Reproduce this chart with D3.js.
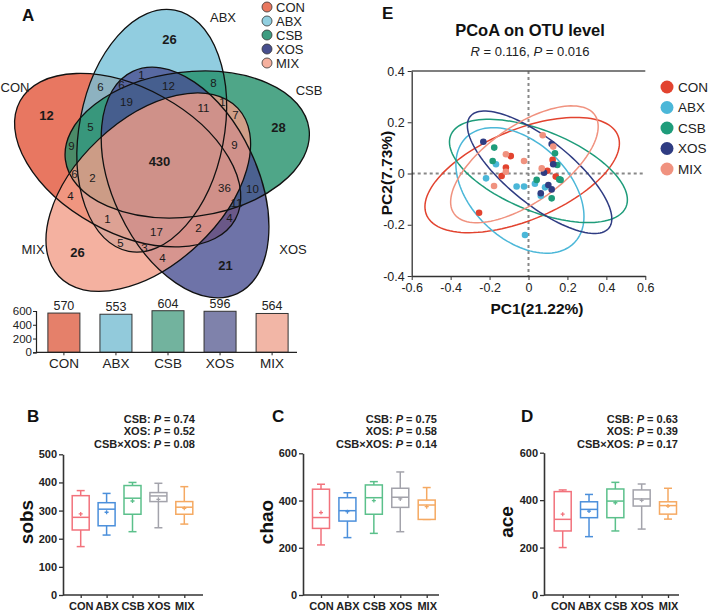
<!DOCTYPE html>
<html><head><meta charset="utf-8">
<script src="https://cdn.jsdelivr.net/npm/d3@7"></script>
<style>
body{margin:0;background:#fff;}
svg{font-family:Arial,"Liberation Sans",sans-serif;}
</style></head><body>
<svg id="fig" width="708" height="614"></svg>
<script>
var groups = ["CON","ABX","CSB","XOS","MIX"];
var initials = ["C","A","S","X","M"];
var otuTotals = [570,553,604,596,564];

// venn region counts, keyed by set initials
var vennCodes  = ["C","A","S","X","M","CASXM","AX","CA","CAX","ASX","AS","ASM","SM","ASXM","CASX","CAS",
                  "CS","SXM","CASM","CSXM","CSM","CM","SX","CSX","CAM","CAXM","CXM","CX","AM","AXM","XM"];
var vennCounts = [12,26,28,21,26,430,1,6,6,12,8,1,7,11,19,5,
                  9,9,2,36,6,4,10,11,1,17,2,4,5,3,4];

// venn geometry (units, diagram centre = 0,0)
var vennDist = 0.3237, vennCentreAngle = -104.77, vennAxisAngle = -79.2;
var vennA = 0.724, vennB = 1.228;
var vennRot = [-72,0,72,144,216];

// PCoA samples [PC1, PC2]
var pcoaCON = [[-0.254,-0.153],[-0.091,0.068],[-0.116,0.023],[-0.138,-0.010],[0.097,0.011],[0.124,0.053],[0.140,-0.012]];
var pcoaABX = [[-0.167,0.036],[-0.218,-0.019],[-0.061,-0.051],[-0.023,-0.051],[0.033,-0.040],[0.085,-0.054],[0.063,-0.087],[-0.018,-0.240]];
var pcoaCSB = [[-0.176,0.101],[-0.184,0.049],[0.136,0.079],[0.148,0.033],[0.158,-0.023],[0.165,-0.025],[0.042,-0.025],[0.119,-0.097]];
var pcoaXOS = [[-0.232,0.124],[0.119,0.115],[0.127,0.036],[0.080,0.003],[0.102,-0.045],[0.119,-0.062],[0.063,-0.077]];
var pcoaMIX = [[-0.116,0.075],[-0.023,0.049],[-0.116,0.007],[-0.177,-0.049],[0.073,0.149],[0.127,0.105],[0.068,0.020]];
// confidence ellipses: centre x, centre y, half width, half height, cos(phase)
var ellCON = [-0.0325,-0.006,0.4995,0.225,0.55];
var ellABX = [-0.044,-0.066,0.329,0.245,-0.416];
var ellCSB = [0.051,0.010,0.457,0.2015,-0.56];
var ellXOS = [0.057,0.005,0.371,0.239,-0.76];
var ellMIX = [-0.021,0.036,0.379,0.228,0.645];
var pcoaTicksX = [-0.6,-0.4,-0.2,0,0.2,0.4,0.6];
var pcoaTicksY = [-0.4,-0.2,0,0.2,0.4];

// box stats: min, q1, median, q3, max, mean
var sobsStats = [[172,231,276,353,371,288],[213,246,305,328,361,294],[225,287,344,389,400,334],[239,332,352,364,397,340],[252,287,312,332,385,308]];
var chaoStats = [[212,282,328,448,469,349],[243,313,357,412,433,353],[261,342,412,466,480,400],[268,371,414,452,521,407],[320,320,381,402,455,374]];
var aceStats  = [[200,270,319,436,443,341],[246,326,361,393,424,354],[270,326,396,447,475,389],[278,375,405,443,468,399],[320,341,377,393,450,375]];

var svg = d3.select("#fig");
var font = "Arial,'Liberation Sans',sans-serif";

function panelLetter(t,x,y){
  svg.append("text").attr("x",x).attr("y",y).attr("font-size",17).attr("font-weight","bold").attr("fill","#111").text(t);
}

// ---------- A: venn ----------
var vx = d3.scaleLinear().domain([0,1]).range([160,260]);
var vy = d3.scaleLinear().domain([0,1]).range([162,262]);
var vennFill = ["#E2553A","#75C0D8","#23906A","#4A5092","#F19D88"];
var legendFill = ["#E8775F","#91CFE0","#3E9C80","#474F8E","#F5B09E"];

var ells = groups.map(function(g,i){
  var ca = (vennCentreAngle + vennRot[i]) * Math.PI/180;
  return {cx: vx(vennDist*Math.cos(ca)), cy: vy(vennDist*Math.sin(ca)),
    rx: vx(vennB)-vx(0), ry: vx(vennA)-vx(0), ang: vennAxisAngle + vennRot[i]};
});
var venn = svg.append("g");
function ellAttrs(sel){
  sel.attr("cx",function(d){return d.cx;}).attr("cy",function(d){return d.cy;})
    .attr("rx",function(d){return d.rx;}).attr("ry",function(d){return d.ry;})
    .attr("transform",function(d){return "rotate("+d.ang+","+d.cx+","+d.cy+")";});
}
venn.selectAll("ellipse.f").data(ells).enter().append("ellipse").call(ellAttrs)
  .attr("fill",function(d,i){return vennFill[i];}).attr("fill-opacity",0.8);
venn.selectAll("ellipse.s").data(ells).enter().append("ellipse").call(ellAttrs)
  .attr("fill","none").attr("stroke","#111").attr("stroke-width",1.3);

function inside(e,x,y){
  var t = e.ang*Math.PI/180, dx = x-e.cx, dy = y-e.cy;
  var u = dx*Math.cos(t)+dy*Math.sin(t), v = -dx*Math.sin(t)+dy*Math.cos(t);
  return (u*u)/(e.rx*e.rx)+(v*v)/(e.ry*e.ry) <= 1;
}
// most interior point of each region (distance transform)
function spots(W,H){
  var m = new Uint8Array(W*H), d = new Float32Array(W*H), x, y, p, i;
  for(y=0;y<H;y++) for(x=0;x<W;x++){
    var k=0; for(i=0;i<5;i++) if(inside(ells[i],x+0.5,y+0.5)) k|=1<<i;
    m[y*W+x]=k;
  }
  for(y=0;y<H;y++) for(x=0;x<W;x++){
    p=y*W+x; d[p]=1e9;
    if((x>0&&m[p-1]!=m[p])||(x<W-1&&m[p+1]!=m[p])||(y>0&&m[p-W]!=m[p])||(y<H-1&&m[p+W]!=m[p])) d[p]=0;
  }
  var r2=Math.SQRT2;
  for(y=1;y<H;y++) for(x=1;x<W-1;x++){ p=y*W+x;
    d[p]=Math.min(d[p],d[p-1]+1,d[p-W]+1,d[p-W-1]+r2,d[p-W+1]+r2); }
  for(y=H-2;y>=0;y--) for(x=W-2;x>0;x--){ p=y*W+x;
    d[p]=Math.min(d[p],d[p+1]+1,d[p+W]+1,d[p+W+1]+r2,d[p+W-1]+r2); }
  var best={};
  for(p=0;p<W*H;p++){ var k=m[p]; if(!k) continue;
    if(!best[k]||d[p]>best[k].d) best[k]={d:d[p],x:p%W+0.5,y:Math.floor(p/W)+0.5}; }
  return best;
}
var best = spots(330,310);
vennCodes.forEach(function(code,j){
  var k=0; for(var i=0;i<5;i++) if(code.indexOf(initials[i])>=0) k|=1<<i;
  var s = best[k]; if(!s) return;
  var big = code.length==1 || code.length==5;
  venn.append("text").attr("x",s.x).attr("y",s.y).attr("dy","0.36em")
    .attr("text-anchor","middle").attr("font-size",big?13:11.5)
    .attr("font-weight",big?"bold":"normal").attr("fill","#1a1a1a").text(vennCounts[j]);
});
// category names
var catPos = [[15,87],[223,17],[309,90],[293,249],[33,249]];
groups.forEach(function(g,i){
  svg.append("text").attr("x",catPos[i][0]).attr("y",catPos[i][1]).attr("dy","0.36em")
    .attr("text-anchor","middle").attr("font-size",13).attr("fill","#222").text(g);
});
var lg = svg.append("g").attr("transform","translate(267,7)");
groups.forEach(function(g,i){
  lg.append("circle").attr("cx",0).attr("cy",i*14).attr("r",5).attr("fill",legendFill[i]).attr("stroke","#333").attr("stroke-width",0.8);
  lg.append("text").attr("x",9).attr("y",i*14).attr("dy","0.36em").attr("font-size",13).attr("fill","#222").text(g);
});
panelLetter("A",22,21);

// bar chart of OTU totals
var barColors = ["#E5806A","#92CADB","#72B39E","#7F82AB","#F2B6A6"];
var bx = d3.scaleBand().domain(groups).range([38,298]).paddingInner(0.385).paddingOuter(0.19);
var by = d3.scaleLinear().domain([0,600]).range([352.3,311]);
var bars = svg.append("g");
bars.selectAll("rect").data(otuTotals).enter().append("rect")
  .attr("x",function(d,i){return bx(groups[i]);}).attr("width",bx.bandwidth())
  .attr("y",function(d){return by(d);}).attr("height",function(d){return by(0)-by(d);})
  .attr("fill",function(d,i){return barColors[i];}).attr("stroke","#333").attr("stroke-width",1);
bars.selectAll("text.v").data(otuTotals).enter().append("text")
  .attr("x",function(d,i){return bx(groups[i])+bx.bandwidth()/2;}).attr("y",function(d){return by(d)-3;})
  .attr("text-anchor","middle").attr("font-size",12.5).attr("fill","#222").text(function(d){return d;});
var bya = svg.append("g").attr("transform","translate(36,0)")
  .call(d3.axisLeft(by).tickValues([0,200,400,600]).tickSize(3).tickPadding(1));
bya.selectAll("text").attr("font-size",11.5).attr("fill","#222").attr("font-family",font);
bya.select(".domain").attr("stroke","#222").attr("stroke-width",1.2);
bya.selectAll(".tick line").attr("stroke","#222");
var bxa = svg.append("g").attr("transform","translate(0,352.3)")
  .call(d3.axisBottom(bx).tickSize(3).tickSizeOuter(0).tickPadding(3));
bxa.select(".domain").attr("d","M36,0H297").attr("stroke","#222").attr("stroke-width",1.2);
bxa.selectAll(".tick line").attr("stroke","#222");
bxa.selectAll("text").attr("font-size",13.5).attr("fill","#222").attr("font-family",font);

// ---------- E: PCoA ----------
var pcoaPts = [pcoaCON,pcoaABX,pcoaCSB,pcoaXOS,pcoaMIX];
var pcoaEll = [ellCON,ellABX,ellCSB,ellXOS,ellMIX];
var pcoaColors = ["#E2432F","#4BB7D8","#1E9C7A","#2F3C82","#F0927F"];
var px = d3.scaleLinear().domain([-0.6,0.6]).range([411.7,645.3]);
var py = d3.scaleLinear().domain([-0.4,0.4]).range([276,71]);
function fmt(d){ return d===0 ? "0" : String(+d.toFixed(1)); }
var pe = svg.append("g");
pe.append("line").attr("x1",px(0)).attr("x2",px(0)).attr("y1",py(0.4)).attr("y2",py(-0.4))
  .attr("stroke","#888").attr("stroke-width",2).attr("stroke-dasharray","3,3");
pe.append("line").attr("x1",px(-0.6)).attr("x2",px(0.6)).attr("y1",py(0)).attr("y2",py(0))
  .attr("stroke","#888").attr("stroke-width",2).attr("stroke-dasharray","3,3");
var ellLine = d3.line().x(function(d){return px(d[0]);}).y(function(d){return py(d[1]);}).curve(d3.curveLinearClosed);
pcoaEll.forEach(function(e,i){
  var dl = Math.acos(e[4]), pts = d3.range(0,360,3).map(function(a){
    var t=a*Math.PI/180; return [e[0]+e[2]*Math.cos(t), e[1]+e[3]*Math.cos(t+dl)];
  });
  pe.append("path").attr("d",ellLine(pts)).attr("fill","none").attr("stroke",pcoaColors[i]).attr("stroke-width",1.5);
});
pcoaPts.forEach(function(pts,i){
  pe.selectAll(null).data(pts).enter().append("circle")
    .attr("cx",function(d){return px(d[0]);}).attr("cy",function(d){return py(d[1]);})
    .attr("r",3.3).attr("fill",pcoaColors[i]);
});
var pxa = svg.append("g").attr("transform","translate(0,276)")
  .call(d3.axisBottom(px).tickValues(pcoaTicksX).tickFormat(fmt).tickSize(4).tickSizeOuter(0));
var pya = svg.append("g").attr("transform","translate(411.7,0)")
  .call(d3.axisLeft(py).tickValues(pcoaTicksY).tickFormat(fmt).tickSize(4).tickSizeOuter(0));
[pxa,pya].forEach(function(a){
  a.selectAll("text").attr("font-size",12.5).attr("fill","#222").attr("font-family",font);
  a.select(".domain").attr("stroke","#333").attr("stroke-width",1.3);
  a.selectAll(".tick line").attr("stroke","#333");
});
pe.append("line").attr("x1",px(-0.6)).attr("x2",px(0.6)).attr("y1",py(0.4)).attr("y2",py(0.4))
  .attr("stroke","#555").attr("stroke-width",1.3);
svg.append("text").attr("x",530).attr("y",36).attr("text-anchor","middle").attr("font-size",16.5)
  .attr("font-weight","bold").attr("fill","#111").text("PCoA on OTU level");
var st = svg.append("text").attr("x",530).attr("y",56).attr("text-anchor","middle").attr("font-size",13).attr("fill","#222");
st.append("tspan").attr("font-style","italic").text("R");
st.append("tspan").text(" = 0.116, ");
st.append("tspan").attr("font-style","italic").text("P");
st.append("tspan").text(" = 0.016");
svg.append("text").attr("x",537).attr("y",314).attr("text-anchor","middle").attr("font-size",15.5)
  .attr("font-weight","bold").attr("fill","#111").text("PC1(21.22%)");
svg.append("text").attr("transform","translate(392,173) rotate(-90)").attr("text-anchor","middle").attr("font-size",15.5)
  .attr("font-weight","bold").attr("fill","#111").text("PC2(7.73%)");
var el = svg.append("g").attr("transform","translate(667,87)");
groups.forEach(function(g,i){
  el.append("circle").attr("cx",0).attr("cy",i*20.5).attr("r",6.5).attr("fill",pcoaColors[i]);
  el.append("text").attr("x",11).attr("y",i*20.5).attr("dy","0.36em").attr("font-size",13.5).attr("fill","#222").text(g);
});
panelLetter("E",382,19);

// ---------- B, C, D: alpha diversity ----------
var boxColors = ["#F2727C","#4B8FDB","#5BC08B","#A3A3AB","#F5A962"];
function boxPanel(o){
  var g = svg.append("g");
  var x = d3.scalePoint().domain(groups).range([o.x0,o.x1]);
  var y = d3.scaleLinear().domain([0,o.ymax]).range([595,o.ytop]);
  var ya = g.append("g").attr("transform","translate("+o.ax+",0)")
    .call(d3.axisLeft(y).tickValues(o.ticks).tickSize(4).tickSizeOuter(0).tickPadding(2));
  var xa = g.append("g").attr("transform","translate(0,595)")
    .call(d3.axisBottom(x).tickSize(3).tickSizeOuter(0).tickPadding(4));
  xa.select(".domain").attr("d","M"+o.ax+",0H"+o.axEnd);
  [ya,xa].forEach(function(a){
    a.selectAll("text").attr("font-size",11).attr("font-weight","bold").attr("fill","#222").attr("font-family",font);
    a.select(".domain").attr("stroke","#333").attr("stroke-width",1.6);
    a.selectAll(".tick line").attr("stroke","#333").attr("stroke-width",1.3);
  });
  var bw = 17, cw = 8;
  o.stats.forEach(function(s,i){
    var cx = x(groups[i]), c = boxColors[i], b = g.append("g").attr("stroke",c).attr("stroke-width",1.5).attr("fill","none");
    b.append("line").attr("x1",cx).attr("x2",cx).attr("y1",y(s[4])).attr("y2",y(s[3]));
    b.append("line").attr("x1",cx).attr("x2",cx).attr("y1",y(s[1])).attr("y2",y(s[0]));
    b.append("line").attr("x1",cx-cw/2).attr("x2",cx+cw/2).attr("y1",y(s[4])).attr("y2",y(s[4]));
    b.append("line").attr("x1",cx-cw/2).attr("x2",cx+cw/2).attr("y1",y(s[0])).attr("y2",y(s[0]));
    b.append("rect").attr("x",cx-bw/2).attr("width",bw).attr("y",y(s[3])).attr("height",y(s[1])-y(s[3])).attr("fill","#fff");
    b.append("line").attr("x1",cx-bw/2).attr("x2",cx+bw/2).attr("y1",y(s[2])).attr("y2",y(s[2]));
    b.append("path").attr("d","M"+(cx-2)+","+y(s[5])+"h4M"+cx+","+(y(s[5])-2)+"v4").attr("stroke-width",1.3);
  });
  g.append("text").attr("transform","translate("+o.tx+",522) rotate(-90)").attr("text-anchor","middle")
    .attr("font-size",19).attr("font-weight","bold").attr("fill","#111").text(o.title);
  o.p.forEach(function(p,i){
    var t = g.append("text").attr("x",o.pr).attr("y",423+i*12.3).attr("text-anchor","end")
      .attr("font-size",11).attr("font-weight","bold").attr("fill","#222");
    t.append("tspan").text(p[0]+": ");
    t.append("tspan").attr("font-style","italic").text("P");
    t.append("tspan").text(" = "+p[1]);
  });
  panelLetter(o.letter,o.lx,422);
}
var pSobs = [["CSB","0.74"],["XOS","0.52"],["CSB\u00d7XOS","0.08"]];
var pChao = [["CSB","0.75"],["XOS","0.58"],["CSB\u00d7XOS","0.14"]];
var pAce  = [["CSB","0.63"],["XOS","0.39"],["CSB\u00d7XOS","0.17"]];
boxPanel({letter:"B",lx:27,stats:sobsStats,ymax:500,ytop:454.3,ticks:[0,100,200,300,400,500],
  x0:80.7,x1:184.3,ax:63,axEnd:203,title:"sobs",tx:33,p:pSobs,pr:195});
boxPanel({letter:"C",lx:272,stats:chaoStats,ymax:600,ytop:453.3,ticks:[0,200,400,600],
  x0:321,x1:426.7,ax:303,axEnd:439,title:"chao",tx:273,p:pChao,pr:437});
boxPanel({letter:"D",lx:521,stats:aceStats,ymax:600,ytop:452.7,ticks:[0,200,400,600],
  x0:562.7,x1:668,ax:544,axEnd:679,title:"ace",tx:513,p:pAce,pr:678});
</script>
</body></html>
